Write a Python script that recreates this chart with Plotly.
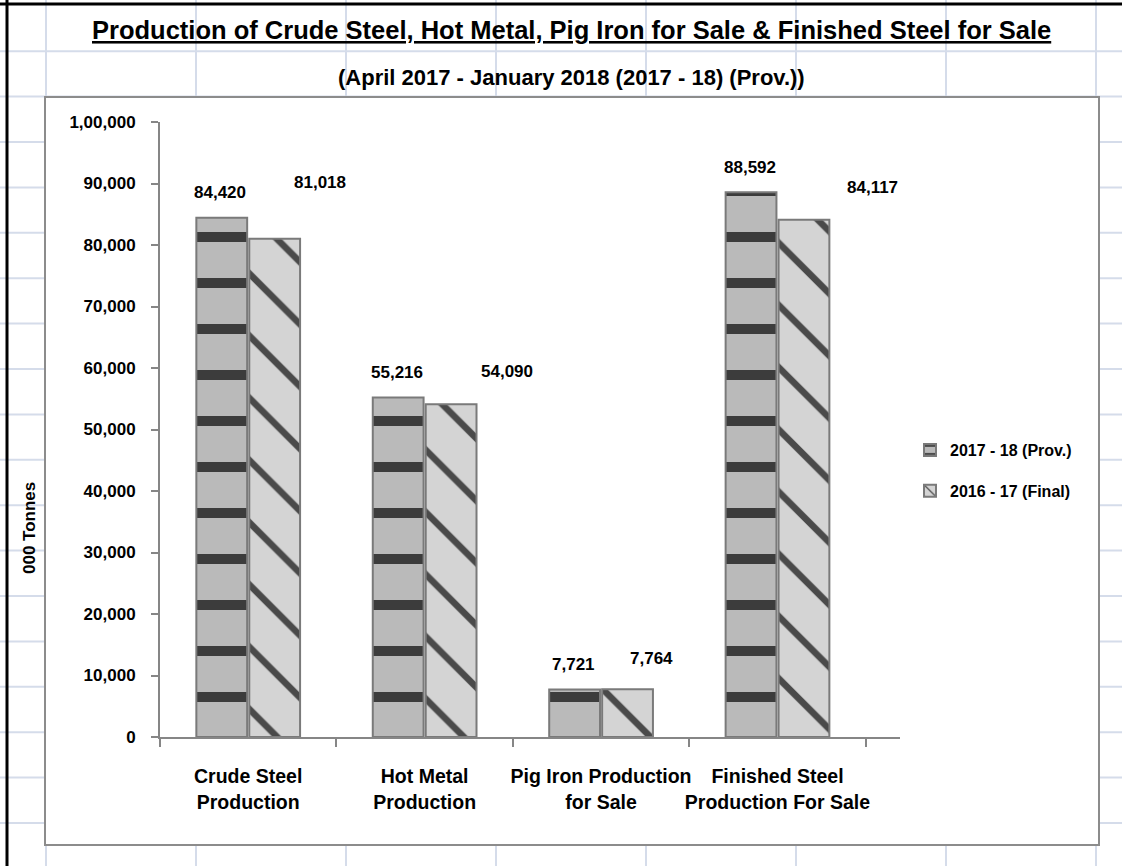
import plotly.graph_objects as go

# ---------------- data ----------------
categories = [
    "Crude Steel<br>Production",
    "Hot Metal<br>Production",
    "Pig Iron Production<br>for Sale",
    "Finished Steel<br>Production For Sale",
]
series_names = ["2017 - 18 (Prov.)", "2016 - 17 (Final)"]
values_2017_18 = [84420, 55216, 7721, 88592]
values_2016_17 = [81018, 54090, 7764, 84117]
y_tick_values = [0, 10000, 20000, 30000, 40000, 50000, 60000, 70000, 80000, 90000, 100000]
y_tick_labels = ["0", "10,000", "20,000", "30,000", "40,000", "50,000",
                 "60,000", "70,000", "80,000", "90,000", "1,00,000"]
title_text = "Production of Crude Steel, Hot Metal, Pig Iron for Sale & Finished Steel for Sale"
subtitle_text = "(April 2017 - January 2018 (2017 - 18) (Prov.))"
y_title_text = "000 Tonnes"

# ---------------- style ----------------
W, H = 1122, 866
NARROW = "Liberation Sans Narrow, Arial Narrow, Liberation Sans, Arial, sans-serif"
ARIAL = "Liberation Sans, Arial, sans-serif"
AXIS_GREY = "#868686"
GRID_BLUE = "#d5dcea"

# label offsets (pixels) for each series' value labels
s1_xshift = [-28, -28, -28, -28]
s1_yshift = [25, 25, 25, 25]
s2_xshift = [72, 82, 50, 95]
s2_yshift = [56, 33, 31, 32]


def px(x):
    return x / W


def py(y):
    return 1 - y / H


fig = go.Figure()
fig.add_trace(go.Bar(
    x=categories, y=values_2017_18, name=series_names[0],
    legendgroup="a",
    marker=dict(
        color="#a9a9a9",
        line=dict(color="#7a7a7a", width=2),
        pattern=dict(shape="-", fgcolor="#3c3c3c", bgcolor="#bababa",
                     size=46, solidity=0.22, fillmode="replace"),
    ),
))
fig.add_trace(go.Bar(
    x=categories, y=values_2016_17, name=series_names[1],
    legendgroup="b",
    marker=dict(
        color="#bdbdbd",
        line=dict(color="#7a7a7a", width=2),
        pattern=dict(shape="\\", fgcolor="#4a4a4a", bgcolor="#d4d4d4",
                     size=44, solidity=0.15, fillmode="replace"),
    ),
))

annotations = []
for i, c in enumerate(categories):
    annotations.append(dict(
        x=c, y=values_2017_18[i], xref="x", yref="y",
        text=f"{values_2017_18[i]:,}", showarrow=False,
        xshift=s1_xshift[i], yshift=s1_yshift[i], yanchor="middle",
        font=dict(family=ARIAL, size=17, color="black", weight="bold"),
    ))
    annotations.append(dict(
        x=c, y=values_2016_17[i], xref="x", yref="y",
        text=f"{values_2016_17[i]:,}", showarrow=False,
        xshift=s2_xshift[i], yshift=s2_yshift[i], yanchor="middle",
        font=dict(family=ARIAL, size=17, color="black", weight="bold"),
    ))

annotations += [
    dict(x=px(571), y=py(30), xref="paper", yref="paper", text=title_text,
         showarrow=False, xanchor="center", yanchor="middle",
         font=dict(family=NARROW, size=25.5, color="black", weight="bold",
                   lineposition="under")),
    dict(x=px(571), y=py(77), xref="paper", yref="paper", text=subtitle_text,
         showarrow=False, xanchor="center", yanchor="middle",
         font=dict(family=NARROW, size=22, color="black", weight="bold")),
    dict(x=px(29), y=py(528), xref="paper", yref="paper", text=y_title_text,
         showarrow=False, xanchor="center", yanchor="middle", textangle=-90,
         font=dict(family=ARIAL, size=17, color="black", weight="bold")),
]

shapes = []
# spreadsheet gridlines
k = 1
while 5.8 + 45.4 * k < H:
    yy = 5.8 + 45.4 * k
    shapes.append(dict(type="line", xref="paper", yref="paper", x0=0, x1=1,
                       y0=py(yy), y1=py(yy), line=dict(color=GRID_BLUE, width=2),
                       layer="below"))
    k += 1
for xx in [46, 196, 346, 496, 646, 796, 946, 1096]:
    shapes.append(dict(type="line", xref="paper", yref="paper", x0=px(xx), x1=px(xx),
                       y0=0, y1=1, line=dict(color=GRID_BLUE, width=2), layer="below"))
# chart box
shapes.append(dict(type="rect", xref="paper", yref="paper",
                   x0=px(45), x1=px(1099), y0=py(845), y1=py(97),
                   fillcolor="white", line=dict(color="#8c8c8c", width=2), layer="below"))
# black cell border
shapes.append(dict(type="line", xref="paper", yref="paper", x0=px(7), x1=px(7),
                   y0=0, y1=1, line=dict(color="black", width=3)))
shapes.append(dict(type="line", xref="paper", yref="paper", x0=0, x1=1,
                   y0=py(4), y1=py(4), line=dict(color="black", width=3)))

fig.update_layout(
    width=W, height=H,
    margin=dict(l=0, r=0, t=0, b=0, autoexpand=False),
    paper_bgcolor="white",
    plot_bgcolor="rgba(0,0,0,0)",
    barmode="group", bargap=0.4, bargroupgap=0.04,
    showlegend=True,
    legend=dict(x=px(910), y=py(433), xanchor="left", yanchor="top",
                bgcolor="rgba(0,0,0,0)", tracegroupgap=17,
                font=dict(family=ARIAL, size=16, color="black", weight="bold")),
    annotations=annotations,
    shapes=shapes,
    xaxis=dict(
        domain=[px(160), px(900)], type="category", automargin=False,
        showline=True, linecolor=AXIS_GREY, linewidth=2,
        ticks="outside", tickson="boundaries", ticklen=8, tickcolor=AXIS_GREY, tickwidth=2,
        ticklabelstandoff=21, tickangle=0,
        tickfont=dict(family=NARROW, size=19.5, color="black", weight="bold"),
        showgrid=False, zeroline=False,
    ),
    yaxis=dict(
        domain=[py(737), py(122)], range=[0, 100000], automargin=False,
        tickvals=y_tick_values, ticktext=y_tick_labels,
        showline=True, linecolor=AXIS_GREY, linewidth=2,
        ticks="outside", ticklen=7, tickcolor=AXIS_GREY, tickwidth=2,
        ticklabelstandoff=12,
        tickfont=dict(family=ARIAL, size=17, color="black", weight="bold"),
        showgrid=False, zeroline=False,
    ),
)

fig.write_html(
    "out.html",
    config={"displayModeBar": False},
    post_script="document.body.style.margin='0';document.body.style.overflow='hidden';",
)
